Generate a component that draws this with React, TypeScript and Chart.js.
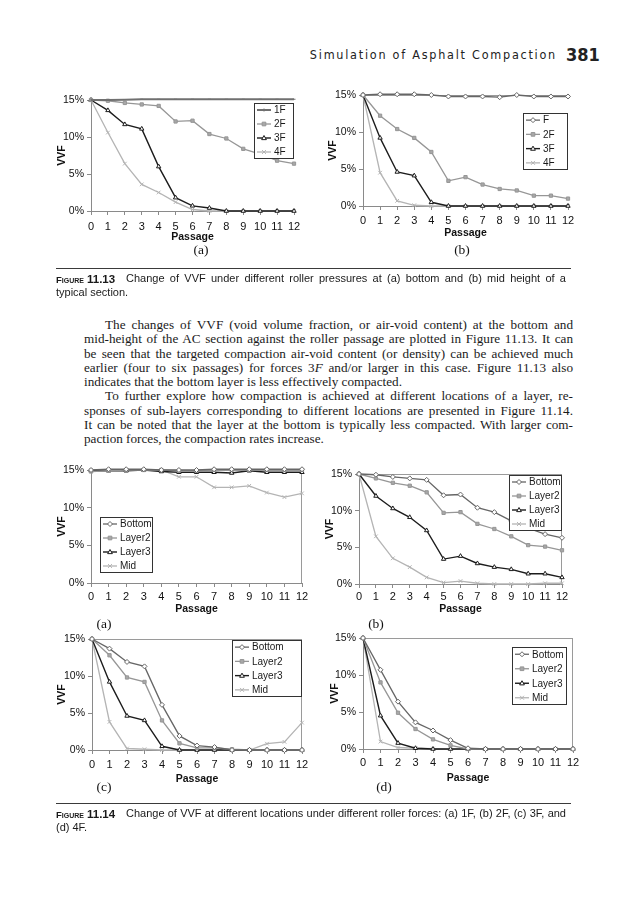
import React, { useEffect, useRef } from 'react';
import { Chart, registerables } from 'chart.js';

Chart.register(...registerables);

// ---------- shared axis data ----------
const passages = ['0', '1', '2', '3', '4', '5', '6', '7', '8', '9', '10', '11', '12'];
const vvfTicks = [0, 5, 10, 15];

// ---------- Figure 11.13 (a): bottom, different roller forces ----------
const fig13aLabels = ['1F', '2F', '3F', '4F'];
const fig13a_1F = [15, 15, 15.05, 15.1, 15.1, 15.1, 15.1, 15.1, 15.1, 15.1, 15.1, 15.1, 15.1];
const fig13a_2F = [15, 14.9, 14.6, 14.4, 14.2, 12.1, 12.2, 10.4, 9.8, 8.4, 7.7, 6.8, 6.4];
const fig13a_3F = [15, 13.6, 11.7, 11.1, 6.0, 1.8, 0.7, 0.4, 0, 0, 0, 0, 0];
const fig13a_4F = [15, 10.6, 6.4, 3.6, 2.5, 1.2, 0.2, 0, 0, 0, 0, 0, 0];

// ---------- Figure 11.13 (b): mid height, different roller forces ----------
const fig13bLabels = ['F', '2F', '3F', '4F'];
const fig13b_F = [15, 15.1, 15.1, 15.1, 15.0, 14.8, 14.8, 14.8, 14.7, 15.0, 14.8, 14.8, 14.8];
const fig13b_2F = [15, 12.2, 10.4, 9.2, 7.3, 3.4, 3.9, 2.9, 2.3, 2.1, 1.4, 1.4, 1.0];
const fig13b_3F = [15, 9.2, 4.6, 4.1, 0.5, 0, 0, 0, 0, 0, 0, 0, 0];
const fig13b_4F = [15, 4.5, 0.7, 0.1, 0, 0, 0, 0, 0, 0, 0, 0, 0];

// ---------- Figure 11.14: locations under different forces ----------
const layerLabels = ['Bottom', 'Layer2', 'Layer3', 'Mid'];

// (a) 1F
const fig14a_bottom = [15, 15.1, 15.1, 15.1, 15.0, 15.0, 15.0, 15.1, 15.1, 15.1, 15.1, 15.1, 15.1];
const fig14a_layer2 = [14.8, 14.9, 15.0, 15.0, 15.0, 14.9, 14.9, 15.0, 15.0, 15.0, 15.0, 15.0, 15.0];
const fig14a_layer3 = [14.9, 14.9, 14.9, 15.0, 14.8, 14.7, 14.7, 14.7, 14.6, 14.9, 14.7, 14.7, 14.7];
const fig14a_mid = [15, 15, 15, 15, 15, 14.1, 14.1, 12.7, 12.7, 12.9, 12.0, 11.4, 11.9];

// (b) 2F
const fig14b_bottom = [15, 14.9, 14.6, 14.4, 14.2, 12.1, 12.2, 10.4, 9.8, 8.6, 7.6, 6.8, 6.3];
const fig14b_layer2 = [15, 14.4, 13.8, 13.4, 12.5, 9.7, 9.8, 8.2, 7.5, 6.5, 5.3, 5.1, 4.6];
const fig14b_layer3 = [15, 12.0, 10.3, 9.1, 7.3, 3.4, 3.8, 2.8, 2.3, 2.0, 1.4, 1.4, 0.9];
const fig14b_mid = [15, 6.5, 3.5, 2.3, 0.9, 0.2, 0.4, 0.1, 0, 0, 0, 0.1, 0.1];

// (c) 3F
const fig14c_bottom = [15, 13.7, 11.9, 11.3, 6.1, 1.9, 0.6, 0.4, 0, 0, 0, 0, 0];
const fig14c_layer2 = [15, 12.8, 9.8, 9.2, 4.0, 0.9, 0.3, 0.3, 0.1, 0, 0, 0, 0];
const fig14c_layer3 = [15, 9.2, 4.6, 4.0, 0.5, 0, 0, 0, 0, 0, 0, 0, 0];
const fig14c_mid = [15, 3.8, 0.2, 0.1, 0, 0, 0, 0, 0, 0, 0.85, 1.1, 3.7];

// (d) 4F
const fig14d_bottom = [15, 10.7, 6.4, 3.6, 2.5, 1.2, 0.1, 0, 0, 0, 0, 0, 0];
const fig14d_layer2 = [15, 9.0, 4.9, 2.7, 1.3, 0.5, 0, 0, 0, 0, 0, 0, 0];
const fig14d_layer3 = [15, 4.5, 0.8, 0.1, 0, 0, 0, 0, 0, 0, 0, 0, 0];
const fig14d_mid = [15, 1.0, 0.2, 0.1, 0.05, 0, 0, 0, 0, 0, 0, 0, 0];

// ---------- styles ----------
type SeriesStyle = { color: string; point: string; fill: string; width: number; radius: number };
const ST_DIAMOND: SeriesStyle = { color: '#666666', point: 'rectRot', fill: '#ffffff', width: 1.3, radius: 2.5 };
const ST_SQUARE: SeriesStyle = { color: '#969696', point: 'rect', fill: '#a8a8a8', width: 1.3, radius: 2.3 };
const ST_TRIANGLE: SeriesStyle = { color: '#1c1c1c', point: 'triangle', fill: '#ffffff', width: 1.4, radius: 2.5 };
const ST_X: SeriesStyle = { color: '#b4b4b4', point: 'crossRot', fill: '#b4b4b4', width: 1.3, radius: 2.6 };
const ST_PLUS: SeriesStyle = { color: '#707070', point: 'line', fill: '#707070', width: 2, radius: 1.5 };

const AXIS = '#8a8a8a';
const FONT = '"Liberation Sans", Arial, Helvetica, sans-serif';
const SERIF = '"Liberation Serif", "Times New Roman", serif';

type Spec = {
  plot: [number, number, number, number];
  legend: [number, number, number, number];
  labels: string[];
  series: number[][];
  styles: SeriesStyle[];
  frame: 'none' | 'top' | 'box';
  vvfGap: number;
  passGap: number;
  tickGap: number;
};

const specs: Spec[] = [
  {
    plot: [91, 100, 294, 211], legend: [254, 103, 294, 159],
    labels: fig13aLabels, series: [fig13a_1F, fig13a_2F, fig13a_3F, fig13a_4F],
    styles: [ST_PLUS, ST_SQUARE, ST_TRIANGLE, ST_X], frame: 'none',
    vvfGap: 29, passGap: 26, tickGap: 15.5,
  },
  {
    plot: [363, 95, 568, 206], legend: [523, 113, 568, 170],
    labels: fig13bLabels, series: [fig13b_F, fig13b_2F, fig13b_3F, fig13b_4F],
    styles: [ST_DIAMOND, ST_SQUARE, ST_TRIANGLE, ST_X], frame: 'top',
    vvfGap: 30, passGap: 27, tickGap: 15,
  },
  {
    plot: [91, 470, 302, 583], legend: [100, 517, 153, 573],
    labels: layerLabels, series: [fig14a_bottom, fig14a_layer2, fig14a_layer3, fig14a_mid],
    styles: [ST_DIAMOND, ST_SQUARE, ST_TRIANGLE, ST_X], frame: 'box',
    vvfGap: 29, passGap: 26, tickGap: 14,
  },
  {
    plot: [359, 474, 562, 584], legend: [509, 475, 562, 531],
    labels: layerLabels, series: [fig14b_bottom, fig14b_layer2, fig14b_layer3, fig14b_mid],
    styles: [ST_DIAMOND, ST_SQUARE, ST_TRIANGLE, ST_X], frame: 'box',
    vvfGap: 29, passGap: 25, tickGap: 13,
  },
  {
    plot: [92, 639, 302, 750], legend: [232, 640, 302, 697],
    labels: layerLabels, series: [fig14c_bottom, fig14c_layer2, fig14c_layer3, fig14c_mid],
    styles: [ST_DIAMOND, ST_SQUARE, ST_TRIANGLE, ST_X], frame: 'box',
    vvfGap: 30, passGap: 29, tickGap: 15,
  },
  {
    plot: [363, 638, 573, 749], legend: [512, 647, 567, 705],
    labels: layerLabels, series: [fig14d_bottom, fig14d_layer2, fig14d_layer3, fig14d_mid],
    styles: [ST_DIAMOND, ST_SQUARE, ST_TRIANGLE, ST_X], frame: 'box',
    vvfGap: 28, passGap: 29, tickGap: 13.5,
  },
];

function drawMarker(ctx: CanvasRenderingContext2D, style: string, x: number, y: number, r: number, stroke: string, fill: string) {
  ctx.save();
  ctx.strokeStyle = stroke;
  ctx.fillStyle = fill;
  ctx.lineWidth = 1;
  ctx.beginPath();
  if (style === 'rectRot') {
    ctx.moveTo(x, y - r); ctx.lineTo(x + r, y); ctx.lineTo(x, y + r); ctx.lineTo(x - r, y); ctx.closePath();
    ctx.fill(); ctx.stroke();
  } else if (style === 'rect') {
    const s = r * 0.8;
    ctx.rect(x - s, y - s, 2 * s, 2 * s); ctx.fill(); ctx.stroke();
  } else if (style === 'triangle') {
    ctx.moveTo(x, y - r); ctx.lineTo(x + r * 0.95, y + r * 0.65); ctx.lineTo(x - r * 0.95, y + r * 0.65); ctx.closePath();
    ctx.fill(); ctx.stroke();
  } else if (style === 'crossRot') {
    const s = r * 0.75;
    ctx.moveTo(x - s, y - s); ctx.lineTo(x + s, y + s); ctx.moveTo(x + s, y - s); ctx.lineTo(x - s, y + s); ctx.stroke();
  } else if (style === 'line') {
    ctx.moveTo(x, y - r); ctx.lineTo(x, y + r); ctx.stroke();
  } else {
    ctx.moveTo(x - r, y); ctx.lineTo(x + r, y); ctx.moveTo(x, y - r); ctx.lineTo(x, y + r); ctx.stroke();
  }
  ctx.restore();
}

function VvfChart({ spec }: { spec: Spec }) {
  const ref = useRef<HTMLCanvasElement | null>(null);
  const padT = 10;
  const padR = 14;
  const yW = Math.round(spec.vvfGap + 6.3);
  const xH = Math.round(spec.passGap + 6.3);
  const [L, T, R, B] = spec.plot;
  const cl = L - yW;
  const ct = T - padT;
  const cw = R - cl + padR;
  const ch = B + xH - ct;

  useEffect(() => {
    if (!ref.current) return;
    const framePlugin = {
      id: 'frame' + L + T,
      beforeDatasetsDraw(chart: any) {
        const { ctx, chartArea: a } = chart;
        if (spec.frame === 'none') return;
        ctx.save();
        ctx.strokeStyle = '#9a9a9a';
        ctx.lineWidth = 1;
        ctx.beginPath();
        ctx.moveTo(a.left, a.top + 0.5);
        ctx.lineTo(a.right, a.top + 0.5);
        if (spec.frame === 'box') {
          ctx.moveTo(a.right - 0.5, a.top);
          ctx.lineTo(a.right - 0.5, a.bottom);
        }
        ctx.stroke();
        ctx.restore();
      },
    };
    const legendPlugin = {
      id: 'boxLegend' + L + T,
      afterDatasetsDraw(chart: any) {
        const ctx: CanvasRenderingContext2D = chart.ctx;
        const [lx0, ly0, lx1, ly1] = spec.legend;
        const x = lx0 - cl;
        const y = ly0 - ct;
        const w = lx1 - lx0;
        const h = ly1 - ly0;
        ctx.save();
        ctx.fillStyle = '#ffffff';
        ctx.fillRect(x, y, w, h);
        ctx.strokeStyle = '#333333';
        ctx.lineWidth = 1;
        ctx.strokeRect(Math.round(x) + 0.5, Math.round(y) + 0.5, Math.round(w) - 1, Math.round(h) - 1);
        const n = spec.labels.length;
        spec.labels.forEach((lab, i) => {
          const st = spec.styles[i];
          const cy = y + (h * (i + 0.5)) / n;
          ctx.strokeStyle = st.color;
          ctx.lineWidth = st.width;
          ctx.beginPath();
          ctx.moveTo(x + 3, cy);
          ctx.lineTo(x + 17, cy);
          ctx.stroke();
          drawMarker(ctx, st.point, x + 10, cy, st.radius, st.color, st.fill);
          ctx.fillStyle = '#1a1a1a';
          ctx.font = `10px ${FONT}`;
          ctx.textBaseline = 'middle';
          ctx.textAlign = 'left';
          ctx.fillText(lab, x + 20, cy + 0.5);
        });
        ctx.restore();
      },
    };

    const tickPad = spec.tickGap - 4 - 6.6;
    const chart = new Chart(ref.current, {
      type: 'line',
      data: {
        labels: passages,
        datasets: spec.series.map((data, i) => {
          const st = spec.styles[i];
          return {
            label: spec.labels[i],
            data,
            borderColor: st.color,
            backgroundColor: st.fill,
            borderWidth: st.width,
            pointStyle: st.point as any,
            pointRadius: st.radius,
            pointBorderColor: st.color,
            pointBackgroundColor: st.fill,
            pointBorderWidth: 1,
            fill: false,
            tension: 0,
            clip: 4 as any,
          };
        }),
      },
      options: {
        animation: false,
        responsive: true,
        maintainAspectRatio: false,
        events: [],
        layout: { padding: { top: padT, right: padR, left: 0, bottom: 0 } },
        plugins: { legend: { display: false }, tooltip: { enabled: false } },
        scales: {
          x: {
            type: 'category',
            offset: false,
            grid: { display: true, drawOnChartArea: false, drawTicks: true, tickLength: 4, color: AXIS, offset: false },
            border: { display: true, color: AXIS, width: 1 },
            ticks: { color: '#111', font: { family: FONT, size: 11 }, padding: tickPad, maxRotation: 0, autoSkip: false },
            title: { display: true, text: 'Passage', color: '#111', font: { family: FONT, size: 10.5, weight: 'bold' }, padding: 0 },
            afterFit: (s: any) => { s.height = xH; },
          },
          y: {
            type: 'linear',
            min: 0,
            max: 15,
            afterBuildTicks: (s: any) => { s.ticks = vvfTicks.map((v) => ({ value: v })); },
            grid: { display: true, drawOnChartArea: false, drawTicks: true, tickLength: 4, color: AXIS },
            border: { display: true, color: AXIS, width: 1 },
            ticks: { color: '#111', font: { family: FONT, size: 10.5 }, padding: 3, callback: (v: any) => `${v}%` },
            title: { display: true, text: 'VVF', color: '#111', font: { family: FONT, size: 10.5, weight: 'bold' }, padding: 0 },
            afterFit: (s: any) => { s.width = yW; },
          },
        },
      } as any,
      plugins: [framePlugin, legendPlugin],
    });
    return () => chart.destroy();
  }, []);

  return (
    <div style={{ position: 'absolute', left: cl, top: ct, width: cw, height: ch }}>
      <canvas ref={ref} />
    </div>
  );
}

// ---------- page text ----------
const paraLines: { text: React.ReactNode; indent: boolean; last: boolean }[] = [
  { text: 'The changes of VVF (void volume fraction, or air-void content) at the bottom and', indent: true, last: false },
  { text: 'mid-height of the AC section against the roller passage are plotted in Figure 11.13. It can', indent: false, last: false },
  { text: 'be seen that the targeted compaction air-void content (or density) can be achieved much', indent: false, last: false },
  { text: <>earlier (four to six passages) for forces 3<i>F</i> and/or larger in this case. Figure 11.13 also</>, indent: false, last: false },
  { text: 'indicates that the bottom layer is less effectively compacted.', indent: false, last: true },
  { text: 'To further explore how compaction is achieved at different locations of a layer, re-', indent: true, last: false },
  { text: 'sponses of sub-layers corresponding to different locations are presented in Figure 11.14.', indent: false, last: false },
  { text: 'It can be noted that the layer at the bottom is typically less compacted. With larger com-', indent: false, last: false },
  { text: 'paction forces, the compaction rates increase.', indent: false, last: true },
];

function Caption({ top, num, line1, line2 }: { top: number; num: string; line1: string; line2: string }) {
  return (
    <>
      <div style={{ position: 'absolute', left: 56, top: top - 10, width: 515, height: 1, background: '#3a3a3a' }} />
      <div style={{ position: 'absolute', left: 56, top: top - 7, lineHeight: '14px', whiteSpace: 'nowrap', color: '#1a1a1a' }}>
        <span style={{ fontFamily: FONT, fontWeight: 'bold', fontVariant: 'small-caps', fontSize: 9.5 }}>Figure</span>
        <span style={{ fontFamily: FONT, fontWeight: 'bold', fontSize: 11.5, marginLeft: 3 }}>{num}</span>
      </div>
      <div style={{ position: 'absolute', left: 126, width: 440, top: top - 7, lineHeight: '14px', fontFamily: FONT, fontSize: 11, color: '#1a1a1a', textAlign: 'justify', textAlignLast: 'justify' }}>
        {line1}
      </div>
      <div style={{ position: 'absolute', left: 56, top: top + 7, lineHeight: '14px', whiteSpace: 'nowrap', fontFamily: FONT, fontSize: 11, color: '#1a1a1a' }}>
        {line2}
      </div>
    </>
  );
}

export default function App() {
  const subLabel = (txt: string, cx: number, cy: number) => (
    <div style={{ position: 'absolute', left: cx - 20, width: 40, top: cy - 8, lineHeight: '16px', textAlign: 'center', fontFamily: SERIF, fontSize: 13.5, color: '#111' }}>
      {txt}
    </div>
  );
  return (
    <div style={{ position: 'absolute', left: 0, top: 0, width: 621, height: 900, background: '#ffffff', overflow: 'hidden' }}>
      {/* running head */}
      <div style={{ position: 'absolute', left: 0, width: 557, top: 47, lineHeight: '16px', textAlign: 'right', fontFamily: '"Liberation Sans Narrow", "DejaVu Sans Condensed", sans-serif', fontSize: 12.5, letterSpacing: 1.75, color: '#222', whiteSpace: 'nowrap' }}>
        Simulation of Asphalt Compaction
      </div>
      <div style={{ position: 'absolute', left: 566, top: 44, lineHeight: '22px', fontFamily: '"Liberation Sans Narrow", "DejaVu Sans Condensed", sans-serif', fontWeight: 'bold', fontSize: 18, color: '#222' }}>
        381
      </div>

      {specs.map((s, i) => (
        <VvfChart key={i} spec={s} />
      ))}

      {subLabel('(a)', 201, 250)}
      {subLabel('(b)', 462, 250)}
      {subLabel('(a)', 104, 624)}
      {subLabel('(b)', 376, 624)}
      {subLabel('(c)', 104, 787)}
      {subLabel('(d)', 384, 787)}

      <Caption top={278} num="11.13" line1="Change of VVF under different roller pressures at (a) bottom and (b) mid height of a" line2="typical section." />

      {paraLines.map((l, i) => (
        <div
          key={i}
          style={{
            position: 'absolute',
            left: l.indent ? 105 : 84,
            width: l.indent ? 468 : 489,
            top: 318 + i * 14.25,
            lineHeight: '14.25px',
            fontFamily: SERIF,
            fontSize: 13.2,
            color: '#1a1a1a',
            textAlign: 'justify',
            textAlignLast: l.last ? 'left' : 'justify',
            whiteSpace: 'normal',
          }}
        >
          {l.text}
        </div>
      ))}

      <Caption top={813} num="11.14" line1="Change of VVF at different locations under different roller forces: (a) 1F, (b) 2F, (c) 3F, and" line2="(d) 4F." />
    </div>
  );
}
